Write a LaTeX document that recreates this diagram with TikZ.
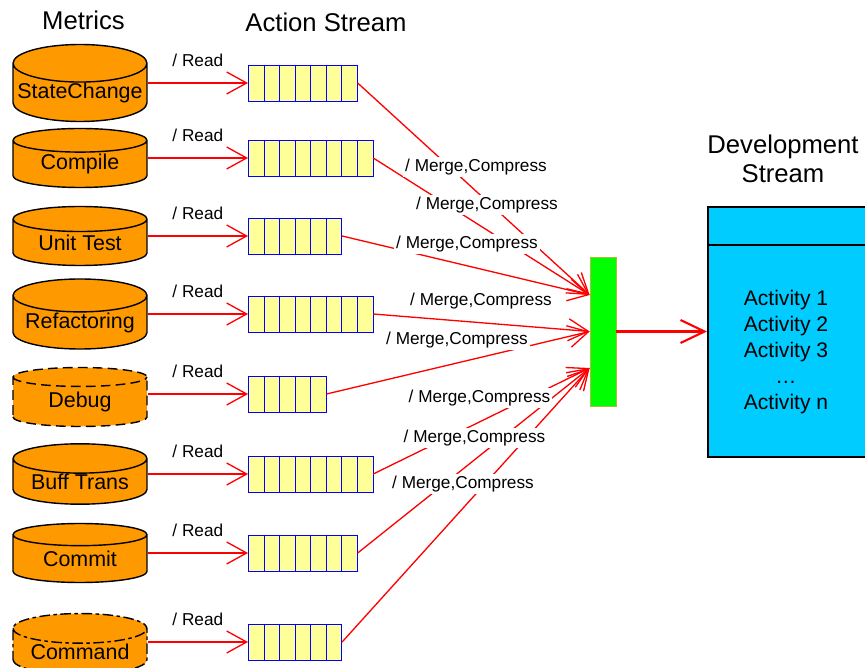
\documentclass[tikz,border=0pt]{standalone}
\usepackage{fontspec}
\setmainfont{Liberation Sans}
\usetikzlibrary{positioning,shapes.geometric,arrows.meta}

\definecolor{dbfill}{RGB}{255,153,0}
\definecolor{cellfill}{RGB}{255,255,153}
\definecolor{barfill}{RGB}{0,255,0}
\definecolor{bardraw}{RGB}{170,190,60}
\definecolor{streamfill}{RGB}{0,204,255}

\begin{document}
\begin{tikzpicture}[
        x=0.02cm, y=-0.02cm,
        metric/.style={
                cylinder,
                shape border rotate=90,
                shape aspect=0.3,
                draw=black,
                fill=dbfill,
                line width=0.8pt,
                minimum width=2.68cm,
                minimum height=1.18cm,
                inner sep=0pt,
                anchor=shape center,
                font=\fontsize{12.2}{14}\selectfont
            },
        queue/.style={
                rectangle,
                draw=blue,
                fill=cellfill,
                minimum width=#1*0.3114cm,
                minimum height=0.72cm,
                inner sep=0pt,
                anchor=west,
                path picture={
                        \foreach \k in {1,...,#1}
                        \draw[blue] (path picture bounding box.south west) ++(\k*0.3114cm,0pt) -- ++(0pt,0.72cm);
                    }
            },
        title/.style={font=\fontsize{14.6}{16.4}\selectfont, align=center},
        op/.style={font=\fontsize{9.8}{11}\selectfont, inner sep=1pt},
        flow/.style={draw=red, line width=0.75pt, -{Straight Barb[length=0.4cm,width=0.44cm]}}
    ]
    \useasboundingbox (0,0) rectangle (865,668);

    % titles
    \node[title] (metrics) at (83.5,20) {Metrics};
    \node[title] (actions) at (326,22) {Action Stream};
    \node[title] (devtitle) at (783,158.5) {Development\\Stream};

    % metric sources
    \node[metric] (sc) at (80,83) {StateChange};
    \node[metric] (cp) at (80,158) {Compile};
    \node[metric] (ut) at (80,236) {Unit Test};
    \node[metric] (rf) at (80,314) {Refactoring};
    \node[metric, dash pattern=on 5.5pt off 3pt] (db) at (80,397) {Debug};
    \node[metric] (bt) at (80,474) {Buff Trans};
    \node[metric] (cm) at (80,553) {Commit};
    \node[metric, dash pattern=on 6pt off 2pt on 2pt off 2pt] (cd) at (80,644) {Command};

    % action queues
    \node[queue=7] (scq) at (248,83) {};
    \node[queue=8] (cpq) at (248,158) {};
    \node[queue=6] (utq) at (248,236) {};
    \node[queue=8] (rfq) at (248,314) {};
    \node[queue=5] (dbq) at (248,394) {};
    \node[queue=8] (btq) at (248,474) {};
    \node[queue=7] (cmq) at (248,553) {};
    \node[queue=6] (cdq) at (248,642) {};

    \foreach \m in {sc,cp,ut,rf,db,bt,cm,cd}
    \path[flow] (\m.east |- \m q.west) -- node[op, yshift=0.46cm] (\m r) {/ Read} (\m q.west);

    % merge bar and development stream
    \node[rectangle, draw=bardraw, fill=barfill, minimum width=0.52cm, minimum height=2.98cm] (bar) at (603,331.5) {};
    \coordinate (intop) at ([yshift=0.73cm]bar.west);
    \coordinate (inmid) at (bar.west);
    \coordinate (inbot) at ([yshift=-0.73cm]bar.west);

    \node[rectangle, draw=black, very thick, fill=streamfill, minimum width=3.44cm, minimum height=5cm] (devbox) at (794,332) {};
    \draw[very thick] ([yshift=-0.78cm]devbox.north west) -- ([yshift=-0.78cm]devbox.north east);
    \node[font=\fontsize{12}{14.7}\selectfont, align=center] (acts) at (786,352) {Activity 1\\Activity 2\\Activity 3\\…\\Activity n};

    \path[flow] (scq.east) -- (intop);
    \path[flow] (cpq.east) -- (intop);
    \path[flow] (utq.east) -- (intop);
    \path[flow] (rfq.east) -- (inmid);
    \path[flow] (dbq.east) -- (inmid);
    \path[flow] (btq.east) -- (inbot);
    \path[flow] (cmq.east) -- (inbot);
    \path[flow] (cdq.east) -- (inbot);
    \path[flow, line width=1.2pt, -{Straight Barb[length=0.48cm,width=0.46cm]}] (bar.east) -- (devbox.west |- bar.east);

    % merge labels
    \node[op, fill=white] (mc1) at (476,167) {/ Merge,Compress};
    \node[op, fill=white] (mc2) at (487,205) {/ Merge,Compress};
    \node[op, fill=white] (mc3) at (467,244) {/ Merge,Compress};
    \node[op, fill=white] (mc4) at (481,301) {/ Merge,Compress};
    \node[op, fill=white] (mc5) at (457,340) {/ Merge,Compress};
    \node[op, fill=white] (mc6) at (479.5,398) {/ Merge,Compress};
    \node[op, fill=white] (mc7) at (474.5,438) {/ Merge,Compress};
    \node[op, fill=white] (mc8) at (463,484) {/ Merge,Compress};
\end{tikzpicture}
\end{document}
